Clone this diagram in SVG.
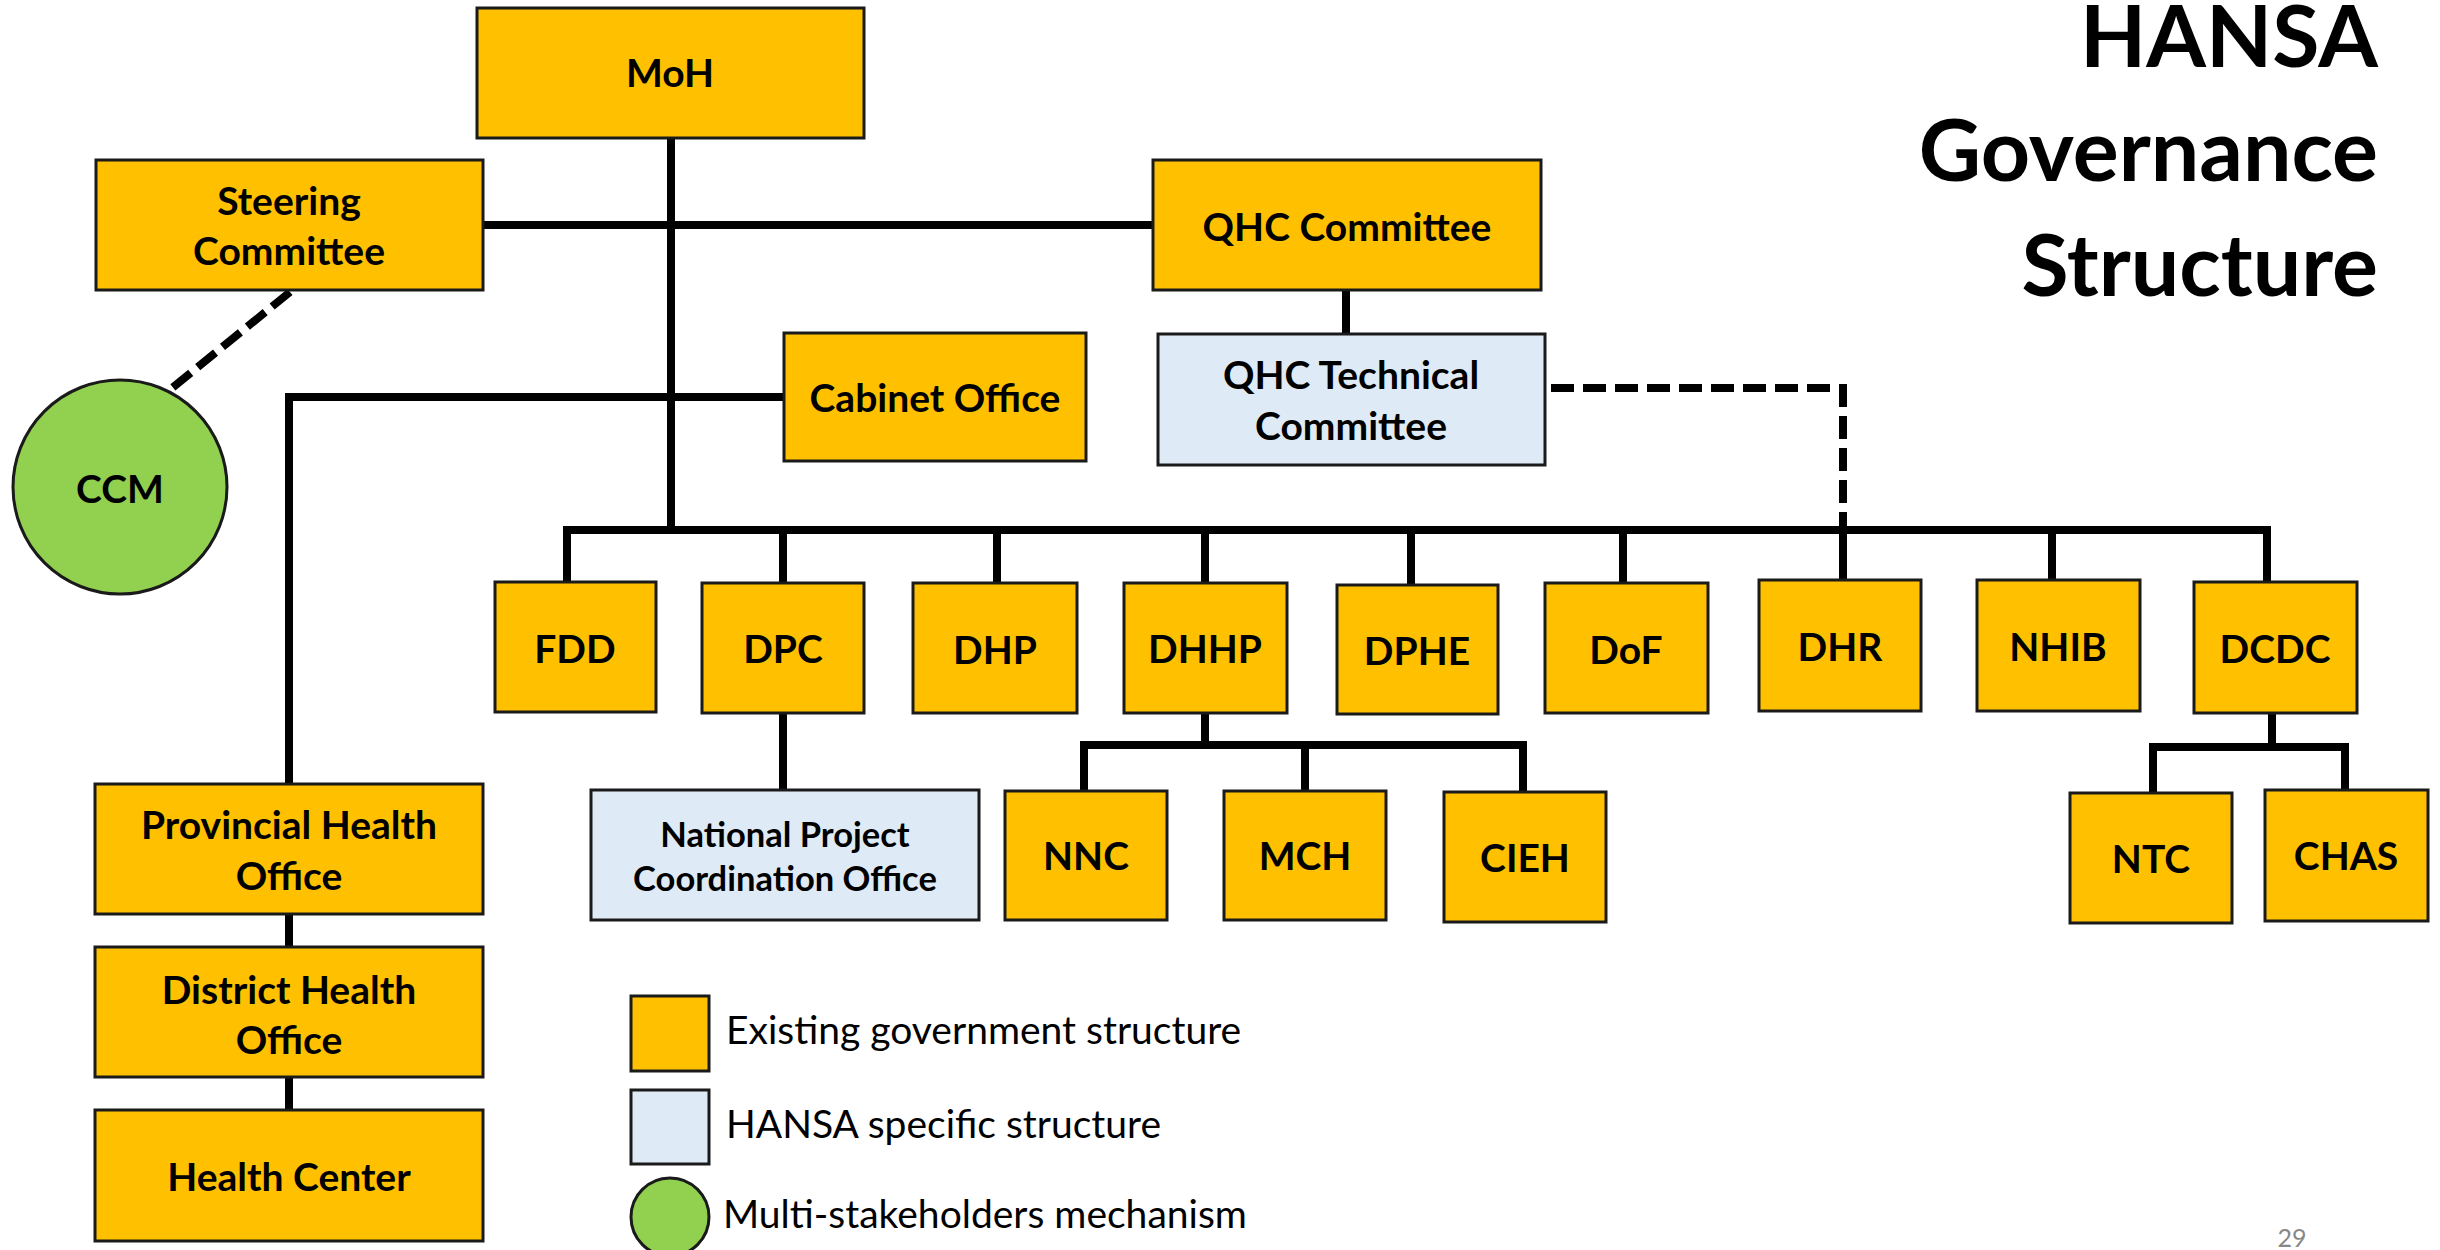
<svg xmlns="http://www.w3.org/2000/svg" width="2440" height="1250" viewBox="0 0 2440 1250">
<style>
.y{fill:#FFC000;stroke:#1a1a1a;stroke-width:3}
.b{fill:#DEEAF6;stroke:#1a1a1a;stroke-width:3}
.g{fill:#92D050;stroke:#1a1a1a;stroke-width:3}
.t{font-family:Lato,"Open Sans","Liberation Sans",sans-serif;font-weight:700;font-size:39px;fill:#000;text-anchor:middle}
.s{font-size:34.5px}
.ln{fill:none;stroke:#000;stroke-width:8}
.d{fill:none;stroke:#000;stroke-width:8;stroke-dasharray:23 9}
.lg{font-family:Lato,"Open Sans","Liberation Sans",sans-serif;font-weight:400;font-size:39px;fill:#000}
.ti{font-family:Lato,"Open Sans","Liberation Sans",sans-serif;font-weight:700;font-size:86px;fill:#000;text-anchor:end}
</style>
<rect width="2440" height="1250" fill="#fff"/>
<g id="connectors">
<path class="ln" d="M671 138V530"/>
<path class="ln" d="M483 225H1153"/>
<path class="ln" d="M784 397H289V784"/>
<path class="ln" d="M289 914V947M289 1077V1110"/>
<path class="ln" d="M563 530H2271"/>
<path class="ln" d="M567 530V582M783 530V583M997 530V583M1205 530V583M1411 530V585M1623 530V583M1843 530V580M2052 530V580M2267 530V582"/>
<path class="ln" d="M1346 290V334"/>
<path class="ln" d="M783 713V790"/>
<path class="ln" d="M1205 713V745M1080 745H1527M1084 745V791M1305 745V791M1523 745V792"/>
<path class="ln" d="M2272 713V747M2149 747H2349M2153 747V793M2345 747V790"/>
<path class="d" d="M1551 388H1843V530"/>
<path class="d" d="M290 292L172 388"/>
</g>
<g id="moh"><rect class="y" x="477" y="8" width="387" height="130"/><text class="t" x="670" y="87">MoH</text></g>
<g id="steering"><rect class="y" x="96" y="160" width="387" height="130"/><text class="t" x="289" y="215">Steering</text><text class="t" x="289" y="265">Committee</text></g>
<g id="qhc"><rect class="y" x="1153" y="160" width="388" height="130"/><text class="t" x="1347" y="241">QHC Committee</text></g>
<g id="qhctech"><rect class="b" x="1158" y="334" width="387" height="131"/><text class="t" x="1351" y="389">QHC Technical</text><text class="t" x="1351" y="440">Committee</text></g>
<g id="cabinet"><rect class="y" x="784" y="333" width="302" height="128"/><text class="t" x="935" y="412">Cabinet Office</text></g>
<g id="ccm"><circle class="g" cx="120" cy="487" r="107"/><text class="t" x="120" y="503">CCM</text></g>
<g id="fdd"><rect class="y" x="495" y="582" width="161" height="130"/><text class="t" x="575" y="663">FDD</text></g>
<g id="dpc"><rect class="y" x="702" y="583" width="162" height="130"/><text class="t" x="783" y="663">DPC</text></g>
<g id="dhp"><rect class="y" x="913" y="583" width="164" height="130"/><text class="t" x="995" y="664">DHP</text></g>
<g id="dhhp"><rect class="y" x="1124" y="583" width="163" height="130"/><text class="t" x="1205" y="663">DHHP</text></g>
<g id="dphe"><rect class="y" x="1337" y="585" width="161" height="129"/><text class="t" x="1417" y="665">DPHE</text></g>
<g id="dof"><rect class="y" x="1545" y="583" width="163" height="130"/><text class="t" x="1626" y="664">DoF</text></g>
<g id="dhr"><rect class="y" x="1759" y="580" width="162" height="131"/><text class="t" x="1840" y="661">DHR</text></g>
<g id="nhib"><rect class="y" x="1977" y="580" width="163" height="131"/><text class="t" x="2058" y="661">NHIB</text></g>
<g id="dcdc"><rect class="y" x="2194" y="582" width="163" height="131"/><text class="t" x="2275" y="663">DCDC</text></g>
<g id="npco"><rect class="b" x="591" y="790" width="388" height="130"/><text class="t s" x="785" y="847">National Project</text><text class="t s" x="785" y="891">Coordination Office</text></g>
<g id="nnc"><rect class="y" x="1005" y="791" width="162" height="129"/><text class="t" x="1086" y="870">NNC</text></g>
<g id="mch"><rect class="y" x="1224" y="791" width="162" height="129"/><text class="t" x="1305" y="870">MCH</text></g>
<g id="cieh"><rect class="y" x="1444" y="792" width="162" height="130"/><text class="t" x="1525" y="872">CIEH</text></g>
<g id="ntc"><rect class="y" x="2070" y="793" width="162" height="130"/><text class="t" x="2151" y="873">NTC</text></g>
<g id="chas"><rect class="y" x="2265" y="790" width="163" height="131"/><text class="t" x="2346" y="870">CHAS</text></g>
<g id="pho"><rect class="y" x="95" y="784" width="388" height="130"/><text class="t" x="289" y="839">Provincial Health</text><text class="t" x="289" y="890">Office</text></g>
<g id="dho"><rect class="y" x="95" y="947" width="388" height="130"/><text class="t" x="289" y="1004">District Health</text><text class="t" x="289" y="1054">Office</text></g>
<g id="hc"><rect class="y" x="95" y="1110" width="388" height="131"/><text class="t" x="289" y="1191">Health Center</text></g>
<g id="title"><text class="ti" x="2378" y="67">HANSA</text><text class="ti" x="2378" y="181">Governance</text><text class="ti" x="2378" y="296">Structure</text></g>
<g id="legend">
<rect class="y" x="631" y="996" width="78" height="75"/><text class="lg" x="726" y="1044">Existing government structure</text>
<rect class="b" x="631" y="1090" width="78" height="74"/><text class="lg" x="726" y="1138">HANSA specific structure</text>
<circle class="g" cx="670" cy="1217" r="39"/><text class="lg" x="723" y="1228">Multi-stakeholders mechanism</text>
</g>
<text x="2292" y="1247" font-family="Lato,'Open Sans',sans-serif" font-size="25" fill="#888" text-anchor="middle">29</text>
</svg>
